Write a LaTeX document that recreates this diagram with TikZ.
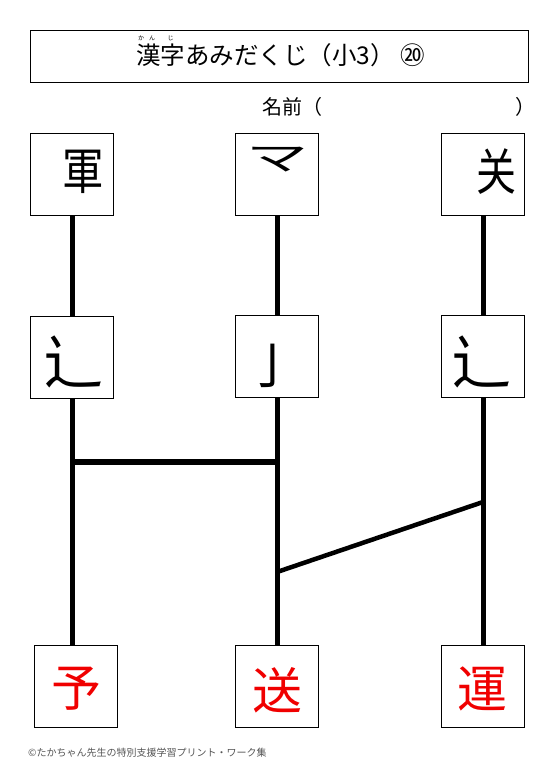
\documentclass[tikz,border=0pt]{standalone}
\usepackage{fontspec}
\setmainfont{Noto Sans CJK JP}
\newfontfamily\jp{Noto Sans CJK JP}
\newfontfamily\scfont{Noto Sans CJK SC}
\definecolor{answerred}{RGB}{240,0,0}
\definecolor{footgray}{RGB}{85,85,85}
\begin{document}
\begin{tikzpicture}[x=1pt,y=-1pt,
  card/.style={draw, line width=1.2pt, minimum width=83pt, minimum height=82pt, inner sep=0pt, anchor=north west},
  part/.style={inner sep=0pt, font=\jp\fontsize{50}{50}\selectfont},
  radical/.style={inner sep=0pt, font=\scfont\fontsize{60}{60}\selectfont},
  answer/.style={part, text=answerred},
  rubytext/.style={inner sep=0pt, font=\jp\fontsize{6}{6}\selectfont},
  rail/.style={line width=5pt},
  rung/.style={line width=5.5pt},
  slant/.style={line width=4.5pt}]
\useasboundingbox (0,0) rectangle (553,784);
% title
\node[draw, line width=1pt, minimum width=498pt, minimum height=51.5pt, anchor=north west, inner sep=0pt] (titlebox) at (30,30.5) {};
\node[anchor=base, inner sep=0pt, font=\jp\fontsize{24.5}{24.5}\selectfont] (title) at (280.5,64) {漢字あみだくじ（小3） ⑳};
\node[rubytext] (ruby1) at (141,38.5) {か};
\node[rubytext] (ruby2) at (152,38.5) {ん};
\node[rubytext] (ruby3) at (170.5,38.5) {じ};
% name line
\node[anchor=west, inner sep=0pt, font=\jp\fontsize{20}{20}\selectfont] (name) at (262,107) {名前（};
\node[inner sep=0pt, font=\jp\fontsize{20}{20}\selectfont] (nameend) at (525,107) {）};
% cards
\node[card] (t1) at (30,133) {};
\node[card] (t2) at (235,133) {};
\node[card] (t3) at (441,133) {};
\node[card] (m1) at (30,316) {};
\node[card] (m2) at (235,315) {};
\node[card] (m3) at (441,315) {};
\node[card] (b1) at (34,645) {};
\node[card] (b2) at (235,645) {};
\node[card] (b3) at (441,645) {};
% parts
\node[part, xscale=0.83] (t1c) at (83,172) {軍};
\node[part, font=\jp\fontsize{62}{62}\selectfont, yscale=0.55] (t2c) at (277,160) {マ};
\node[part, font=\scfont\fontsize{50}{50}\selectfont, xscale=0.8] (t3c) at (496,172) {关};
\node[radical] (m1c) at (73,362) {辶};
\node[part] (m2c) at (272,366) {亅};
\node[radical] (m3c) at (481,362) {辶};
\node[answer] (b1c) at (76,689) {予};
\node[answer] (b2c) at (277,690) {送};
\node[answer] (b3c) at (482,689) {運};
% rails
\coordinate (c1) at (72,0);
\coordinate (c2) at (277,0);
\coordinate (c3) at (483,0);
\draw[rail] (t1.south -| c1) -- (m1.north -| c1);
\draw[rail] (m1.south -| c1) -- (b1.north -| c1);
\draw[rail] (t2.south -| c2) -- (m2.north -| c2);
\draw[rail] (m2.south -| c2) -- (b2.north -| c2);
\draw[rail] (t3.south -| c3) -- (m3.north -| c3);
\draw[rail] (m3.south -| c3) -- (b3.north -| c3);
% rungs
\coordinate (r1a) at (72,462);
\coordinate (r1b) at (277,462);
\coordinate (r2a) at (277,572);
\coordinate (r2b) at (483,502);
\draw[rung] (r1a) -- (r1b);
\draw[slant] (r2a) -- (r2b);
% footer
\node[anchor=west, inner sep=0pt, text=footgray, font=\jp\fontsize{10}{10}\selectfont] (footer) at (28,753) {©たかちゃん先生の特別支援学習プリント・ワーク集};
\end{tikzpicture}
\end{document}
